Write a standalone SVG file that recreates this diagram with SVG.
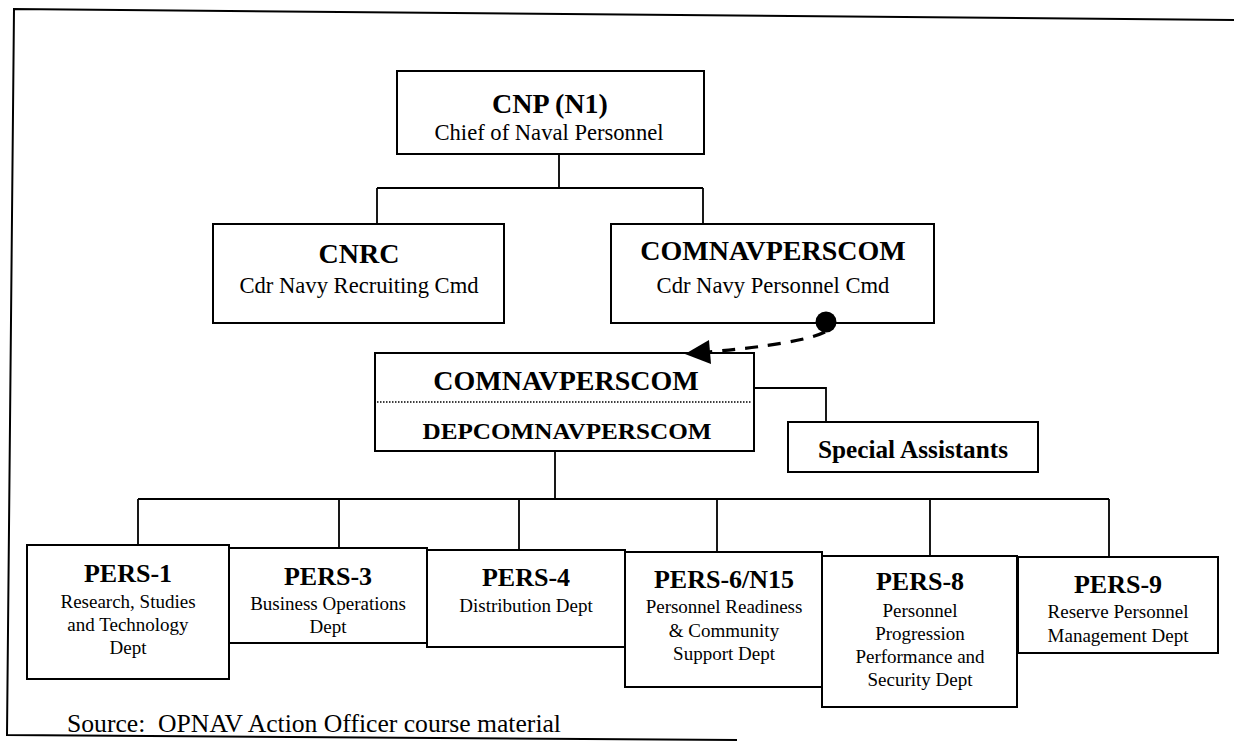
<svg xmlns="http://www.w3.org/2000/svg" width="1234" height="742" viewBox="0 0 1234 742">
<style>
  text { font-family: "Liberation Serif", "Times New Roman", serif; fill: #000; text-anchor: middle; }
  .h { font-weight: bold; font-size: 28px; }
  .h2 { font-weight: bold; font-size: 26px; }
  .s { font-size: 22.6px; }
  .t { font-size: 19px; }
  .box { fill: #fff; stroke: #000; stroke-width: 2; }
  .ln { fill: none; stroke: #000; stroke-width: 1.8; }
</style>
<rect width="1234" height="742" fill="#fff"/>
<polyline points="1234,20 14,9 7,735 737,740" fill="none" stroke="#000" stroke-width="2"/>

<g id="cnp">
  <rect class="box" x="397" y="71" width="307" height="83"/>
  <text class="h" x="550" y="113">CNP (N1)</text>
  <text class="s" x="549" y="140">Chief of Naval Personnel</text>
</g>
<g id="cnrc">
  <rect class="box" x="213" y="224" width="291" height="99"/>
  <text class="h" x="359" y="263">CNRC</text>
  <text class="s" x="359" y="293">Cdr Navy Recruiting Cmd</text>
</g>
<g id="comnavperscom-top">
  <rect class="box" x="611" y="224" width="323" height="99"/>
  <text class="h" x="773" y="260">COMNAVPERSCOM</text>
  <text class="s" x="773" y="293">Cdr Navy Personnel Cmd</text>
</g>
<g id="comnavperscom">
  <rect class="box" x="375" y="353" width="379" height="98"/>
  <line x1="377" y1="402" x2="752" y2="402" stroke="#000" stroke-width="1.5" stroke-dasharray="1.5,1.5"/>
  <text class="h" x="566" y="390">COMNAVPERSCOM</text>
  <text x="567" y="439" font-weight="bold" font-size="23" textLength="289" lengthAdjust="spacingAndGlyphs">DEPCOMNAVPERSCOM</text>
</g>
<g id="special">
  <rect class="box" x="788" y="422" width="250" height="50"/>
  <text x="913" y="458" font-weight="bold" font-size="26" textLength="190" lengthAdjust="spacingAndGlyphs">Special Assistants</text>
</g>

<g id="pers1">
  <rect class="box" x="27" y="545" width="202" height="134"/>
  <text class="h2" x="128" y="582">PERS-1</text>
  <text class="t" x="128" y="608">Research, Studies</text>
  <text class="t" x="128" y="631">and Technology</text>
  <text class="t" x="128" y="654">Dept</text>
</g>
<g id="pers3">
  <rect class="box" x="229" y="548" width="198" height="95"/>
  <text class="h2" x="328" y="585">PERS-3</text>
  <text class="t" x="328" y="610">Business Operations</text>
  <text class="t" x="328" y="633">Dept</text>
</g>
<g id="pers4">
  <rect class="box" x="427" y="550" width="198" height="97"/>
  <text class="h2" x="526" y="586">PERS-4</text>
  <text class="t" x="526" y="612">Distribution Dept</text>
</g>
<g id="pers6">
  <rect class="box" x="625" y="552" width="197" height="135"/>
  <text class="h2" x="724" y="588">PERS-6/N15</text>
  <text class="t" x="724" y="613">Personnel Readiness</text>
  <text class="t" x="724" y="637">&amp; Community</text>
  <text class="t" x="724" y="660">Support Dept</text>
</g>
<g id="pers8">
  <rect class="box" x="822" y="556" width="195" height="151"/>
  <text class="h2" x="920" y="590">PERS-8</text>
  <text class="t" x="920" y="617">Personnel</text>
  <text class="t" x="920" y="640">Progression</text>
  <text class="t" x="920" y="663">Performance and</text>
  <text class="t" x="920" y="686">Security Dept</text>
</g>
<g id="pers9">
  <rect class="box" x="1018" y="557" width="200" height="96"/>
  <text class="h2" x="1118" y="593">PERS-9</text>
  <text class="t" x="1118" y="618">Reserve Personnel</text>
  <text class="t" x="1118" y="642">Management Dept</text>
</g>

<g id="connectors">
  <path class="ln" d="M559,155 V188 M377,188 H703 M377,188 V223 M703,188 V223"/>
  <path class="ln" d="M755,388 H826 V421"/>
  <path class="ln" d="M555,452 V499 M138,499 H1109 M138,499 V544 M339,499 V547 M519,499 V549 M717,499 V551 M930,499 V555 M1109,499 V556"/>
  <circle cx="826" cy="322" r="10.5" fill="#000"/>
  <path d="M825,332 Q800,344 708,352" fill="none" stroke="#000" stroke-width="3.2" stroke-dasharray="13,10"/>
  <polygon points="685,354 709,340 711,364" fill="#000"/>
</g>

<text x="67" y="732" font-size="25.3" textLength="494" lengthAdjust="spacingAndGlyphs" style="text-anchor:start" xml:space="preserve">Source:  OPNAV Action Officer course material</text>
</svg>
